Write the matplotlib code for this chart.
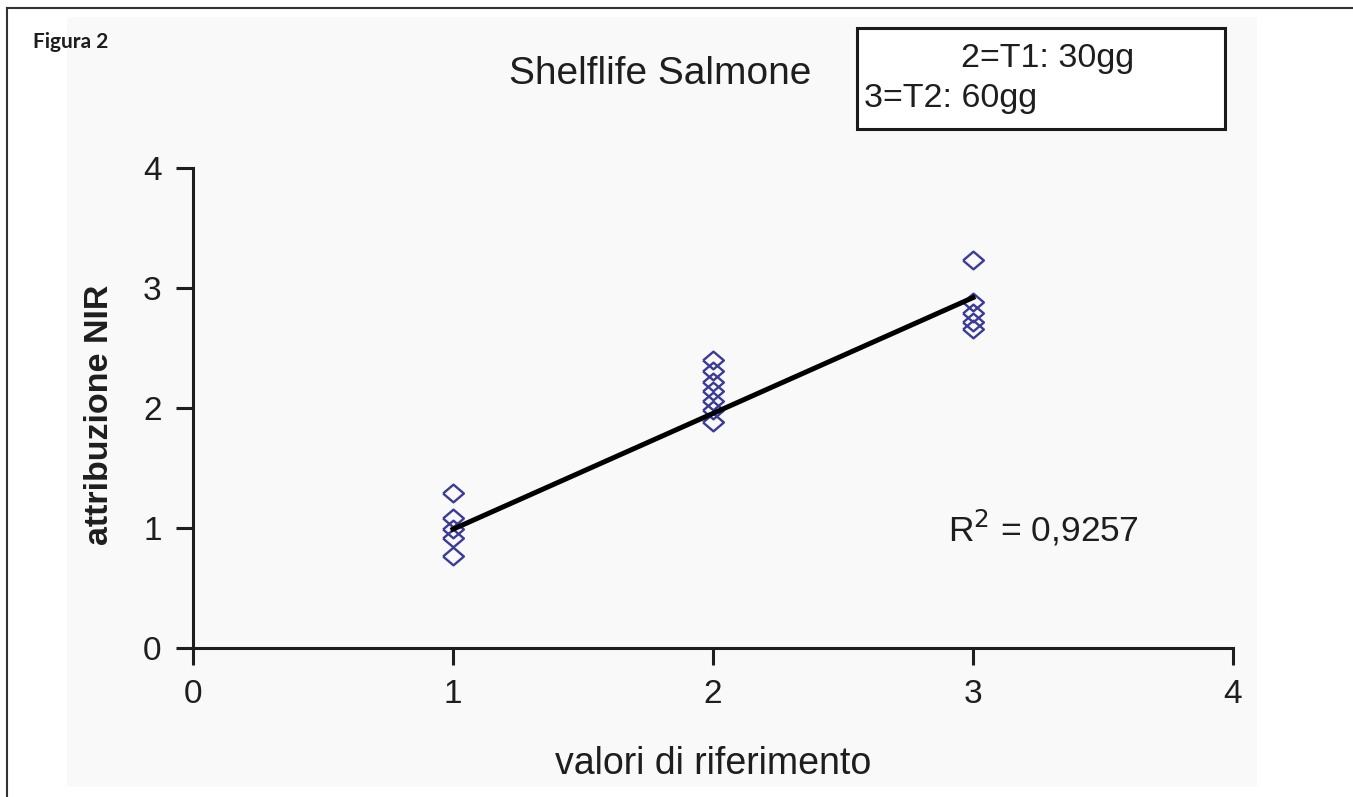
import numpy as np
import matplotlib
matplotlib.use("Agg")
import matplotlib.pyplot as plt
from matplotlib.patches import Rectangle
from matplotlib.lines import Line2D

plt.rcParams["font.family"] = ["Liberation Sans", "DejaVu Sans"]

# measured points (reference value, NIR attribution)
x_ref = [1, 1, 1, 1, 1,
         2, 2, 2, 2, 2, 2, 2,
         3, 3, 3, 3, 3]
y_nir = [1.29, 1.08, 0.99, 0.92, 0.77,
         2.40, 2.31, 2.22, 2.14, 2.06, 1.98, 1.88,
         3.23, 2.88, 2.79, 2.72, 2.66]

trend_x = [1, 3]
trend_y = [0.99, 2.92]

x_ticks = [0, 1, 2, 3, 4]
y_ticks = [0, 1, 2, 3, 4]

title = "Shelflife Salmone"
legend_lines = ["2=T1: 30gg", "3=T2: 60gg"]
r2_text = "R$^2$ = 0,9257"

W, H = 1353, 797
fig = plt.figure(figsize=(W / 100, H / 100), dpi=100)
fig.patch.set_facecolor("white")

# faint grey background of the scanned chart + outer frame
fig.patches.append(Rectangle((67 / W, 1 - 787 / H), (1257 - 67) / W, (787 - 17) / H,
                             transform=fig.transFigure, facecolor="#f9f9f9",
                             edgecolor="none", zorder=-2))
fig.lines.append(Line2D([7 / W, 7 / W], [0, 1 - 8 / H], transform=fig.transFigure,
                        color="#333333", lw=1.5))
fig.lines.append(Line2D([7 / W, 1], [1 - 8 / H, 1 - 8 / H], transform=fig.transFigure,
                        color="#333333", lw=1.5))

ax = fig.add_axes([193 / W, 1 - 648 / H, (1233 - 193) / W, (648 - 168) / H])
ax.set_facecolor("none")
ax.set_zorder(1)

diamond = [(-1, 0), (0, 0.85), (1, 0), (0, -0.85), (-1, 0)]
ax.plot(x_ref, y_nir, linestyle="none", marker=diamond, markersize=15,
        markerfacecolor="none", markeredgecolor="#3b3b96", markeredgewidth=1.7,
        zorder=3)
ax.plot(trend_x, trend_y, color="black", lw=3.6, zorder=4)

ax.set_xlim(0, 4)
ax.set_ylim(0, 4)
ax.set_xticks(x_ticks)
ax.set_yticks(y_ticks)
ax.tick_params(direction="out", length=12.5, width=2.2, labelsize=24, pad=10,
               colors="#1e1e1e")
for s in ["top", "right"]:
    ax.spines[s].set_visible(False)
for s in ["left", "bottom"]:
    ax.spines[s].set_linewidth(2.2)
    ax.spines[s].set_color("#1e1e1e")

ax.set_xlabel("valori di riferimento", fontsize=27, labelpad=26, color="#1e1e1e")
ax.set_ylabel("attribuzione NIR", fontsize=24.5, fontweight="bold", color="#1e1e1e")
ax.yaxis.set_label_coords(-0.075, 0.485)

ax.text(948 / W, 1 - 528 / H, r2_text, transform=fig.transFigure, fontsize=25.5,
        va="center", ha="left", color="#1e1e1e")

fig.text(660 / W, 1 - 74 / H, title, fontsize=28, ha="center", va="center",
         color="#1e1e1e")
fig.text(33 / W, 1 - 42 / H, "Figura 2", fontsize=15, fontweight="bold",
         family=["Lato", "DejaVu Sans"], ha="left", va="center", color="#1e1e1e")

# box with the time legend
fig.patches.append(Rectangle((857 / W, 1 - 129 / H), (1225 - 857) / W, (129 - 28) / H,
                             transform=fig.transFigure, facecolor="white",
                             edgecolor="#1a1a1a", lw=2.2, zorder=2))
fig.text(1048 / W, 1 - 59 / H, legend_lines[0], fontsize=24.5, ha="center",
         va="center", color="#1e1e1e", zorder=3)
fig.text(864 / W, 1 - 99 / H, legend_lines[1], fontsize=24.5, ha="left",
         va="center", color="#1e1e1e", zorder=3)

fig.savefig("out.png", dpi=100)
